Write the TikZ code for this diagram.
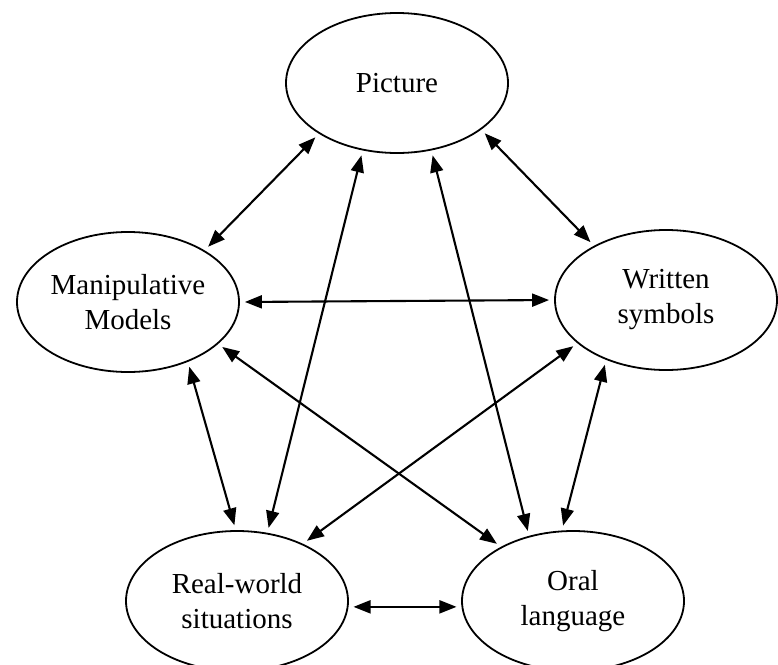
\documentclass[tikz,border=0pt]{standalone}
\usepackage{fontspec}
\setmainfont{Liberation Serif}
\usetikzlibrary{arrows.meta,shapes.geometric}

\begin{document}
\begin{tikzpicture}
[x=1pt,y=-1pt,%
  darkArrow/.style={<->,>={Triangle[length=17pt,width=13pt]},line width=2.1pt,
    shorten <=5pt,shorten >=5pt},%
  nodeDecorate/.style={shape=ellipse,draw,line width=1.8pt,inner sep=0pt,
    minimum width=222pt,minimum height=140pt,align=center,
    font=\fontsize{29}{35}\selectfont}]
\useasboundingbox (0,0) rectangle (778,664);
%% nodes or vertices
\foreach \nodename/\x/\y/\nodetext in {pic/397/83/Picture,
  manip/128/302/{Manipulative\\Models}, written/666/300/{Written\\symbols},
  real/237/601/{Real-world\\situations}, oral/573/601/{Oral\\language}}
{
  \node (\nodename) at (\x,\y) [nodeDecorate] {\nodetext};
}
%% dark edges or lines
\path
\foreach \startnode/\startangle/\endnode/\endangle in {pic/213/manip/34,
  pic/331/written/143, manip/0/written/180, real/66/pic/243,
  oral/124/pic/297, manip/335/oral/143, written/206/real/41,
  manip/315/real/91, written/225/oral/99, real/357/oral/183}
{
  (\startnode.\startangle) edge[darkArrow] (\endnode.\endangle)
};
\end{tikzpicture}
\end{document}
